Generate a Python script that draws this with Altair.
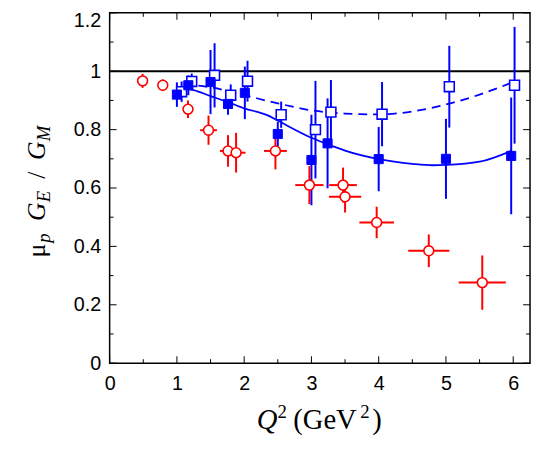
import altair as alt
import pandas as pd

# ---------------- data ----------------
# red open circles (with x and y error bars)
red_x = [0.49, 0.79, 1.165, 1.47, 1.76, 1.88, 2.465, 2.97, 3.47, 3.50, 3.97, 4.745, 5.54]
red_y = [0.967, 0.952, 0.870, 0.798, 0.727, 0.721, 0.727, 0.610, 0.610, 0.570, 0.482, 0.385, 0.276]
red_ey = [0.024, 0.020, 0.030, 0.050, 0.054, 0.068, 0.063, 0.065, 0.060, 0.054, 0.054, 0.056, 0.093]
red_ex = [0.0, 0.0, 0.0, 0.125, 0.12, 0.14, 0.17, 0.21, 0.206, 0.24, 0.257, 0.306, 0.35]

# blue filled squares
bf_x = [1.00, 1.17, 1.50, 1.76, 2.01, 2.50, 3.00, 3.24, 4.00, 5.00, 5.97]
bf_y = [0.920, 0.952, 0.963, 0.888, 0.926, 0.785, 0.696, 0.753, 0.699, 0.700, 0.710]
bf_ey = [0.042, 0.034, 0.110, 0.037, 0.090, 0.042, 0.155, 0.154, 0.110, 0.137, 0.200]

# blue open squares
bo_x = [1.07, 1.22, 1.56, 1.80, 2.05, 2.55, 3.06, 3.29, 4.05, 5.05, 6.02]
bo_y = [0.930, 0.965, 0.986, 0.918, 0.966, 0.851, 0.800, 0.860, 0.853, 0.947, 0.952]
bo_ey = [0.035, 0.027, 0.110, 0.037, 0.070, 0.045, 0.167, 0.110, 0.110, 0.140, 0.200]

# solid fit curve
solid_x = [1.05, 1.25, 1.5, 1.75, 2.0, 2.35, 2.5, 3.0, 3.33, 3.5, 4.0, 4.5, 4.8, 5.0, 5.5, 5.97]
solid_y = [0.945, 0.935, 0.915, 0.895, 0.873, 0.849, 0.831, 0.772, 0.742, 0.728, 0.699, 0.683, 0.678, 0.679, 0.690, 0.727]

# dashed fit curve
dash_x = [1.1, 1.5, 2.0, 2.5, 3.0, 3.5, 4.0, 4.5, 5.0, 5.5, 6.0]
dash_y = [0.955, 0.945, 0.918, 0.890, 0.866, 0.855, 0.852, 0.862, 0.886, 0.920, 0.963]

x_major = [0, 1, 2, 3, 4, 5, 6]
x_minor = [0.5, 1.5, 2.5, 3.5, 4.5, 5.5]
y_major = [0, 0.2, 0.4, 0.6, 0.8, 1.0, 1.2]
y_minor = [0.1, 0.3, 0.5, 0.7, 0.9, 1.1]

# ---------------- layout ----------------
W, H = 426, 355
BLUE = "#0000ff"
RED = "#ff0000"
SERIF = "Liberation Serif"
SANS = "Liberation Sans"

xs = alt.Scale(domain=[0, 6.25], nice=False, zero=False)
ys = alt.Scale(domain=[0, 1.2], nice=False, zero=False)
AX = alt.Axis(values=x_major, format="d", title=None, ticks=False, domain=False, grid=False,
              labelFont=SANS, labelFontSize=20, labelColor="black", labelPadding=11,
              labelFlush=False, labelOverlap=False)
AY = alt.Axis(values=y_major, format="~g", title=None, ticks=False, domain=False, grid=False,
              labelFont=SANS, labelFontSize=20, labelColor="black", labelPadding=9,
              labelFlush=False, labelOverlap=False,
              labelOffset={"condition": {"test": "datum.value > 1.1", "value": 8}, "value": 0})

red = pd.DataFrame({"x": red_x, "y": red_y})
red["x0"] = red["x"] - pd.Series(red_ex)
red["x1"] = red["x"] + pd.Series(red_ex)
red["y0"] = red["y"] - pd.Series(red_ey)
red["y1"] = red["y"] + pd.Series(red_ey)

bf = pd.DataFrame({"x": bf_x, "y": bf_y})
bf["y0"] = bf["y"] - pd.Series(bf_ey)
bf["y1"] = bf["y"] + pd.Series(bf_ey)

bo = pd.DataFrame({"x": bo_x, "y": bo_y})
bo["y0"] = bo["y"] - pd.Series(bo_ey)
bo["y1"] = bo["y"] + pd.Series(bo_ey)

solid = pd.DataFrame({"x": solid_x, "y": solid_y})
dashed = pd.DataFrame({"x": dash_x, "y": dash_y})

X = lambda f: alt.X(f, type="quantitative", scale=xs, axis=AX)
Y = lambda f: alt.Y(f, type="quantitative", scale=ys, axis=AY)

# line at ratio 1 (also carries the y axis)
one = alt.Chart(pd.DataFrame({"y": [1.0]})).mark_rule(color="black", strokeWidth=2).encode(
    y=Y("y"), x=alt.value(0), x2=alt.value(W),
)

def ticks(vals, axis, length):
    d = alt.Chart(pd.DataFrame({"v": vals}))
    out = []
    if axis == "x":
        out.append(d.mark_rule(color="black", strokeWidth=1).encode(x=X("v"), y=alt.value(H), y2=alt.value(H - length)))
        out.append(d.mark_rule(color="black", strokeWidth=1).encode(x=X("v"), y=alt.value(0), y2=alt.value(length)))
    else:
        out.append(d.mark_rule(color="black", strokeWidth=1).encode(y=Y("v"), x=alt.value(0), x2=alt.value(length)))
        out.append(d.mark_rule(color="black", strokeWidth=1).encode(y=Y("v"), x=alt.value(W), x2=alt.value(W - length)))
    return out

tick_layers = ticks(x_major, "x", 7) + ticks(x_minor, "x", 4) + ticks(y_major, "y", 7) + ticks(y_minor, "y", 4)

solid_line = alt.Chart(solid).mark_line(color=BLUE, strokeWidth=1.8, interpolate="monotone").encode(x=X("x"), y=Y("y"))
dash_line = alt.Chart(dashed).mark_line(color=BLUE, strokeWidth=1.8, interpolate="monotone",
                                        strokeDash=[9, 6]).encode(x=X("x"), y=Y("y"))

bo_bar = alt.Chart(bo).mark_rule(color=BLUE, strokeWidth=2).encode(x=X("x"), y=Y("y0"), y2="y1:Q")
bf_bar = alt.Chart(bf).mark_rule(color=BLUE, strokeWidth=2).encode(x=X("x"), y=Y("y0"), y2="y1:Q")
bo_pt = alt.Chart(bo).mark_point(shape="square", filled=True, fill="white", stroke=BLUE, strokeWidth=1.6,
                                 size=100, opacity=1).encode(x=X("x"), y=Y("y"))
bf_pt = alt.Chart(bf).mark_point(shape="square", filled=True, fill=BLUE, stroke=BLUE, strokeWidth=1,
                                 size=85, opacity=1).encode(x=X("x"), y=Y("y"))

red_hbar = alt.Chart(red).mark_rule(color=RED, strokeWidth=2).encode(x=X("x0"), x2="x1:Q", y=Y("y"))
red_vbar = alt.Chart(red).mark_rule(color=RED, strokeWidth=2).encode(x=X("x"), y=Y("y0"), y2="y1:Q")
red_pt = alt.Chart(red).mark_point(shape="circle", filled=True, fill="white", stroke=RED, strokeWidth=1.6,
                                   size=100, opacity=1).encode(x=X("x"), y=Y("y"))

# ---------------- titles as text pieces ----------------
def txt(s, x, y, size, italic=False, angle=0):
    kw = dict(font=SERIF, fontSize=size, align="left", baseline="alphabetic", color="black")
    if italic:
        kw["fontStyle"] = "italic"
    if angle:
        kw["angle"] = angle
    return alt.Chart(pd.DataFrame({"t": [s]})).mark_text(**kw).encode(
        text="t:N", x=alt.value(x), y=alt.value(y))

xtitle = [
    txt("Q", 149, 422, 29, italic=True),
    txt("2", 170, 411, 19),
    txt("(GeV", 186, 422, 29),
    txt("2", 254, 411, 19),
    txt(")", 266, 422, 29),
]
ytitle = [
    txt("μ", -65, 248, 26, angle=270),
    txt("p", -60, 233, 19, italic=True, angle=270),
    txt("G", -65, 211, 26, italic=True, angle=270),
    txt("E", -60, 192, 19, italic=True, angle=270),
    txt("/", -65, 168, 26, angle=270),
    txt("G", -65, 149, 26, italic=True, angle=270),
    txt("M", -60, 130, 19, italic=True, angle=270),
]

chart = alt.layer(
    one, *tick_layers,
    solid_line, dash_line,
    bo_bar, bf_bar, red_hbar, red_vbar,
    bo_pt, bf_pt, red_pt,
    *xtitle, *ytitle,
).properties(
    width=W, height=H,
    autosize=alt.AutoSizeParams(type="none"),
    padding={"left": 103, "top": 2, "right": 2, "bottom": 80},
).configure_view(stroke="black", strokeWidth=1.5)

chart.save("out.html", embed_options={"renderer": "svg", "actions": False})
